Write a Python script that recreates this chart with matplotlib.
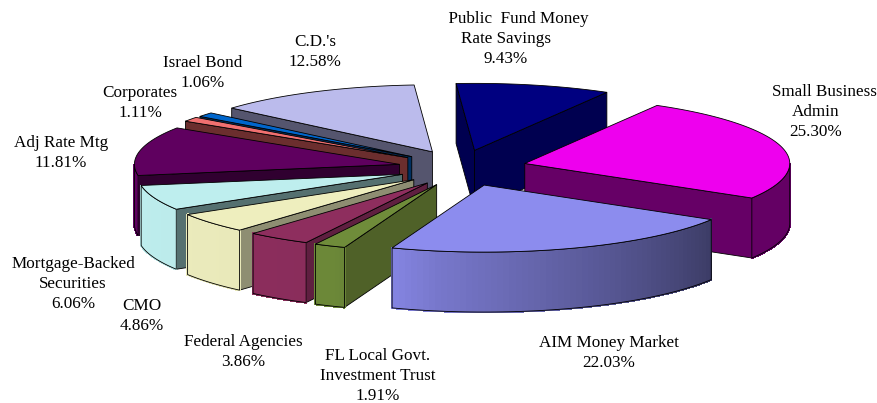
import matplotlib
matplotlib.use("Agg")
import matplotlib.pyplot as plt
from matplotlib.patches import Polygon
import numpy as np

names = ["      Public  Fund Money\nRate Savings", "    Small Business\nAdmin", "AIM Money Market",
         "FL Local Govt.\nInvestment Trust", "Federal Agencies", "CMO",
         "Mortgage-Backed\nSecurities", "Adj Rate Mtg", "Corporates", "Israel Bond", "C.D.'s"]
shares = [9.43, 25.30, 22.03, 1.91, 3.86, 4.86, 6.06, 11.81, 1.11, 1.06, 12.58]
top_colors = ["#000080", "#ee00ee", "#8c8cee", "#6f8c3a", "#8e2e5e", "#eeeebe",
              "#beeeee", "#5f005f", "#f07070", "#0066cc", "#bbbbec"]
side_colors = ["#000050", "#660066", "#3b3b66", "#4f6128", "#5f1f40", "#8e8e72",
               "#557070", "#300030", "#6b2e2e", "#003060", "#55556e"]
label_x = [506, 816, 609, 378, 243, 142, 73, 61, 140, 203, 315]
label_y = [39, 112, 353, 376, 352, 316, 284, 153, 103, 73, 52]

# pie geometry, in pixels of the 878x403 picture
cx, cy = 458.5, 168
rx, ry = 265, 67
depth = 60
explode = 0.27
# wedges on the left sit a bit closer in than the plain explode gives
shift_x = [0, -3, 2, 7, 9, 10, 11, 11, 8, 9, 6]
draw_order = [0, 1, 10, 9, 8, 7, 6, 5, 4, 3, 2]
start_angle = 94

fig = plt.figure(figsize=(8.78, 4.03), dpi=100)
ax = fig.add_axes([0, 0, 1, 1])
ax.set_xlim(0, 878)
ax.set_ylim(403, 0)
ax.axis("off")

edges = start_angle - np.cumsum([0] + shares) * 3.6


def rim(ax0, ay0, ang):
    a = np.radians(ang)
    return ax0 + rx * np.cos(a), ay0 - ry * np.sin(a)


def arc_shade(ang):
    # angle folded to -180..180, light on the left and dark on the right
    ang = (ang + 180) % 360 - 180
    return np.interp(ang, [-180, -113, -100, -30], [1.0, 0.97, 0.85, 0.42])


for i in draw_order:
    a0, a1 = edges[i], edges[i + 1]
    mid = np.radians((a0 + a1) / 2)
    ax0 = cx + explode * rx * np.cos(mid) + shift_x[i]
    ay0 = cy - explode * ry * np.sin(mid)
    top = np.array(matplotlib.colors.to_rgb(top_colors[i]))

    # radial faces, the one looking away from the viewer goes first
    faces = [(a0, a0 + 90), (a1, a1 - 90)]
    faces.sort(key=lambda f: -np.sin(np.radians(f[1])))
    for ang, normal in reversed(faces):
        if np.sin(np.radians(normal)) < 0:
            x1, y1 = rim(ax0, ay0, ang)
            ax.add_patch(Polygon([(ax0, ay0), (x1, y1), (x1, y1 + depth), (ax0, ay0 + depth)],
                                 fc=side_colors[i], ec="black", lw=0.6, joinstyle="round"))

    # outer wall, only the part facing front, in thin shaded strips
    angs = np.linspace(a0, a1, 60)
    front = angs[np.sin(np.radians(angs)) < 0]
    if len(front) > 1:
        xs, ys = rim(ax0, ay0, front)
        for k in range(len(front) - 1):
            c = top * arc_shade((front[k] + front[k + 1]) / 2)
            ax.add_patch(Polygon([(xs[k], ys[k]), (xs[k + 1], ys[k + 1]),
                                  (xs[k + 1], ys[k + 1] + depth), (xs[k], ys[k] + depth)],
                                 fc=c, ec=c, lw=1.0, antialiased=False))
        outline = list(zip(xs, ys)) + list(zip(xs[::-1], ys[::-1] + depth))
        ax.add_patch(Polygon(outline, fc="none", ec="black", lw=0.6))

    # top face
    xs, ys = rim(ax0, ay0, angs)
    ax.add_patch(Polygon([(ax0, ay0)] + list(zip(xs, ys)), fc=top_colors[i], ec="black", lw=0.6))

for i in range(len(names)):
    ax.text(label_x[i], label_y[i], f"{names[i]}\n{shares[i]:.2f}%", ha="center", va="center",
            family="Liberation Serif", fontsize=12.3, linespacing=1.335, color="black")

fig.savefig("out.png", dpi=100)
